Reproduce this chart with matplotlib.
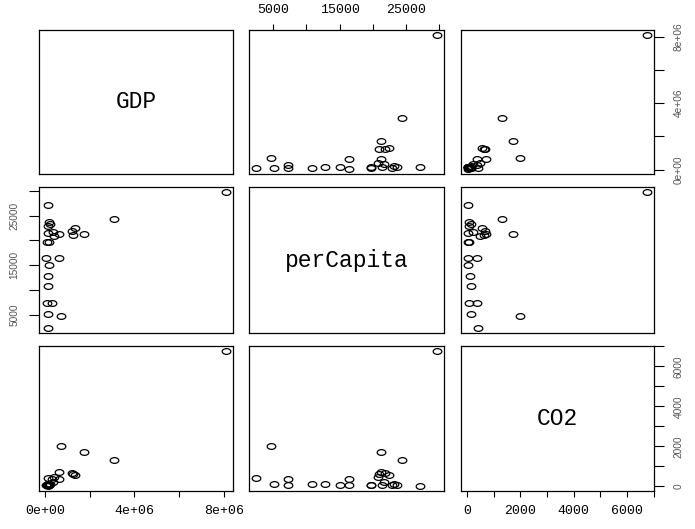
import numpy as np
import matplotlib
matplotlib.use("Agg")
import matplotlib.pyplot as plt
from matplotlib.path import Path
from matplotlib.transforms import Affine2D

# values (GDP in millions)
gdp = [8080000, 3090000, 1740000, 1270000, 1230000, 1330000, 700000, 640000,
       650000, 400000, 360000, 300000, 90000, 130000, 120000, 120000,
       140000, 170000, 60000, 100000, 180000, 160000, 120000, 230000,
       190000, 140000]
per_capita = [29650, 24400, 21200, 21000, 21850, 22400, 4700, 16400,
              21200, 20850, 21700, 7300, 7300, 2450, 5100, 10850,
              12800, 15000, 16450, 19750, 19750, 21400, 22900, 23200,
              23700, 27150]
co2 = [6750, 1320, 1730, 640, 660, 560, 2000, 360,
       700, 490, 220, 390, 70, 400, 140, 140,
       120, 50, 50, 60, 50, 50, 70, 140,
       60, 40]
var_names = ["GDP", "perCapita", "CO2"]

gdp_ticks = [0, 2e6, 4e6, 6e6, 8e6]
gdp_labels = ["0e+00", "", "4e+06", "", "8e+06"]
pc_ticks = [5000, 10000, 15000, 20000, 25000, 30000]
pc_labels = ["5000", "", "15000", "", "25000", ""]
co2_ticks = [0, 1000, 2000, 3000, 4000, 5000, 6000, 7000]
co2_labels = ["0", "", "2000", "", "4000", "", "6000", ""]

data = [gdp, per_capita, co2]
ticks = [gdp_ticks, pc_ticks, co2_ticks]
tlabels = [gdp_labels, pc_labels, co2_labels]


def rlim(v):
    lo, hi = min(v), max(v)
    ext = 0.04 * (hi - lo)
    return lo - ext, hi + ext


W, H = 695, 529
cols = [(39, 233), (249, 444), (461, 654)]
rows = [(30, 174), (187, 333), (346, 491)]

fig = plt.figure(figsize=(W / 100, H / 100), dpi=100)

# R draws its circles a bit wide in this picture
ell = Path.unit_circle().transformed(Affine2D().scale(1.5, 1.0))

mono = "Liberation Mono"
sans = "Liberation Sans"

for i in range(3):
    for j in range(3):
        x0, x1 = cols[j]
        y0, y1 = rows[i]
        ax = fig.add_axes([x0 / W, 1 - y1 / H, (x1 - x0) / W, (y1 - y0) / H])
        for sp in ax.spines.values():
            sp.set_linewidth(0.9)
        ax.set_xlim(rlim(data[j]))
        ax.set_ylim(rlim(data[i]))
        ax.set_xticks(ticks[j])
        ax.set_yticks(ticks[i])
        ax.set_xticklabels(tlabels[j], fontfamily=mono, fontsize=9.5)
        ax.set_yticklabels(tlabels[i], fontfamily=sans, fontsize=7.3,
                           rotation=90, color="#555555", va="center")
        ax.tick_params(axis="x", length=4.3, width=0.8, pad=6,
                       bottom=False, top=False, labelbottom=False, labeltop=False)
        ax.tick_params(axis="y", length=7, width=0.8, pad=7,
                       left=False, right=False, labelleft=False, labelright=False)

        if i == 0 and j == 1:
            ax.tick_params(axis="x", top=True, labeltop=True)
        if i == 2 and j in (0, 2):
            ax.tick_params(axis="x", bottom=True, labelbottom=True)
        if j == 0 and i == 1:
            ax.tick_params(axis="y", left=True, labelleft=True)
        if j == 2 and i in (0, 2):
            ax.tick_params(axis="y", right=True, labelright=True)

        if i == j:
            ax.text(0.5, 0.5, var_names[i], transform=ax.transAxes,
                    ha="center", va="center", fontsize=16.5, fontfamily=mono)
        else:
            ax.plot(data[j], data[i], linestyle="none", marker=ell,
                    markersize=6.2, markerfacecolor="none",
                    markeredgecolor="black", markeredgewidth=0.9)

fig.savefig("out.png", dpi=100)
